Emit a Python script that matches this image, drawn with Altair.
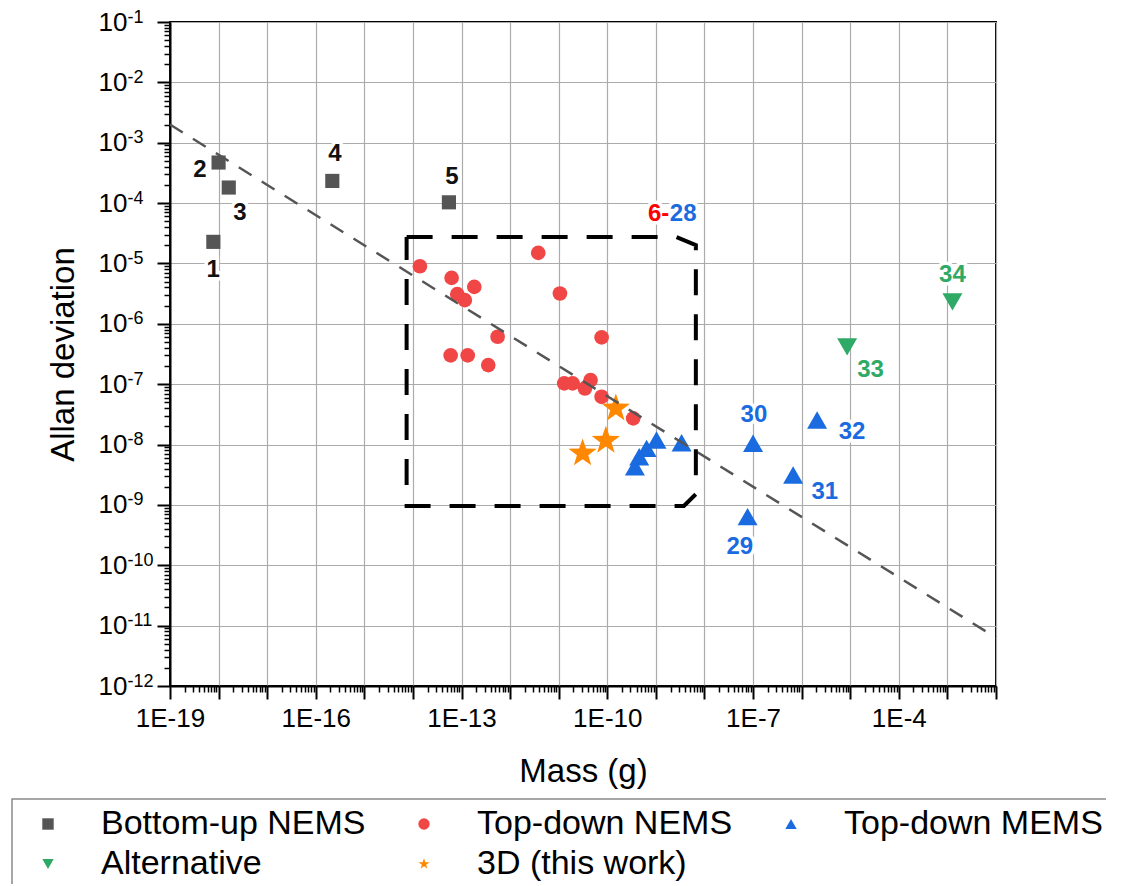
import json
import altair as alt
import pandas as pd

# ---------------- data ----------------
group_names = ["Bottom-up NEMS", "Top-down NEMS", "Top-down MEMS", "Alternative", "3D (this work)"]

bottom_up_mass = [7.8e-19, 1.0e-18, 1.62e-18, 2.19e-16, 5.5e-14]
bottom_up_dev = [2.28e-5, 4.7e-4, 1.81e-4, 2.33e-4, 1.03e-4]

top_nems_mass = [1.39e-14, 6.25e-14, 8.17e-14, 1.17e-13, 1.83e-13, 3.79e-12, 1.06e-11,
                 5.53e-13, 5.97e-14, 1.34e-13, 3.55e-13, 7.64e-11, 1.30e-11, 1.93e-11,
                 3.46e-11, 4.53e-11, 7.64e-11, 3.41e-10]
top_nems_dev = [9.0e-6, 5.78e-6, 3.1e-6, 2.47e-6, 4.1e-6, 1.5e-5, 3.18e-6,
                6.1e-7, 3.0e-7, 3.0e-7, 2.07e-7, 5.96e-7, 1.03e-7, 1.03e-7,
                8.5e-8, 1.17e-7, 6.18e-8, 2.72e-8]

top_mems_mass = [1.03e-9, 3.38e-9, 6.44e-10, 4.54e-10, 3.7e-10, 1.0e-7, 2.08e-6, 6.68e-7, 7.71e-8]
top_mems_dev = [1.19e-8, 1.07e-8, 8.65e-9, 6.28e-9, 4.29e-9, 1.05e-8, 2.55e-8, 3.13e-9, 6.38e-10]

alternative_mass = [8.63e-6, 1.27e-3]
alternative_dev = [4.16e-7, 2.31e-6]

work_mass = [1.5e-10, 9.35e-11, 3.1e-11]
work_dev = [3.97e-8, 1.16e-8, 7.15e-9]

# trend line (two end points)
trend_mass = [1e-19, 1e-2]
trend_dev = [2.0e-3, 6.32e-12]

# dashed highlight box outline
box_mass = [7.41e-15, 2.58e-9, 6.65e-9, 6.65e-9, 3.77e-9, 7.41e-15, 7.41e-15]
box_dev = [2.75e-5, 2.75e-5, 2.01e-5, 1.51e-9, 9.6e-10, 9.6e-10, 2.75e-5]

# reference-number labels
label_text = ["1", "2", "3", "4", "5", "6-", "28", "29", "30", "31", "32", "33", "34"]
label_mass = [7.76e-19, 4.14e-19, 2.75e-18, 2.48e-16, 6.34e-14, 1.14e-9, 3.65e-9,
              5.35e-8, 1.04e-7, 3.0e-6, 1.09e-5, 2.62e-5, 1.27e-3]
label_dev = [7.74e-6, 3.51e-4, 6.73e-5, 6.46e-4, 2.69e-4, 6.55e-5, 6.55e-5,
             2.03e-10, 3.08e-8, 1.66e-9, 1.63e-8, 1.71e-7, 6.4e-6]
label_kind = ["black", "black", "black", "black", "black", "red", "blue",
              "blue", "blue", "blue", "blue", "green", "green"]

x_tick_labels = ["1E-19", "", "", "1E-16", "", "", "1E-13", "", "", "1E-10", "", "",
                 "1E-7", "", "", "1E-4", "", ""]
y_tick_base = "10"
y_tick_exps = ["-12", "-11", "-10", "-9", "-8", "-7", "-6", "-5", "-4", "-3", "-2", "-1"]

# ---------------- styles ----------------
STAR = ("M0,-1L0.235,-0.324L0.951,-0.309L0.38,0.124L0.588,0.809L0,0.4"
        "L-0.588,0.809L-0.38,0.124L-0.951,-0.309L-0.235,-0.324Z")
group_colors = ["#555555", "#f04646", "#1a6be0", "#2eaa66", "#ff8800"]
group_shapes = ["square", "circle", "triangle-up", "triangle-down", STAR]
group_sizes = [200, 215, 400, 400, 880]
kind_colors = {"black": "#111111", "red": "#ff0000", "blue": "#1a6be0", "green": "#2eaa66"}
FONT = "Liberation Sans"

# ---------------- tables ----------------
rows = []
for name, ms, ds, sz in zip(group_names,
                            [bottom_up_mass, top_nems_mass, top_mems_mass, alternative_mass, work_mass],
                            [bottom_up_dev, top_nems_dev, top_mems_dev, alternative_dev, work_dev],
                            group_sizes):
    for m, d in zip(ms, ds):
        rows.append({"group": name, "mass": m, "dev": d, "msize": sz})
points_df = pd.DataFrame(rows)
trend_df = pd.DataFrame({"mass": trend_mass, "dev": trend_dev})
box_df = pd.DataFrame({"mass": box_mass, "dev": box_dev, "idx": list(range(len(box_mass)))})
labels_df = pd.DataFrame({"text": label_text, "mass": label_mass, "dev": label_dev, "kind": label_kind})

x_decades = [10.0 ** k for k in range(-19, -1)]
y_decades = [10.0 ** k for k in range(-12, 0)]
x_minor = [m * 10.0 ** k for k in range(-19, -2) for m in range(2, 10)]
y_minor = [m * 10.0 ** k for k in range(-12, -1) for m in range(2, 10)]

xscale = alt.Scale(type="log", domain=[1e-19, 1e-2], nice=False)
yscale = alt.Scale(type="log", domain=[1e-12, 1e-1], nice=False)

common_axis = dict(tickColor="black", tickWidth=2, domainColor="black", domainWidth=2,
                   labelColor="black", labelFont=FONT, labelFontSize=26, labelFlush=False,
                   labelOverlap=False, gridColor="#ababab", gridWidth=1.2,
                   titleFont=FONT, titleFontSize=33, titleFontWeight="normal",
                   titleColor="black")

x_axis_major = alt.Axis(values=x_decades,
                        labelExpr=json.dumps(x_tick_labels, ensure_ascii=False)
                        + "[round(log(datum.value)/LN10)+19]",
                        grid=True, tickSize=13, labelPadding=6, title="Mass (g)",
                        titleX=413, titleY=95, titleBaseline="alphabetic", titleAlign="center",
                        orient="bottom", **common_axis)
# base "10" of the y labels
y_axis_major = alt.Axis(values=y_decades,
                        labelExpr=json.dumps(y_tick_base),
                        labelAlign="right", grid=True, tickSize=13, labelPadding=30,
                        title="Allan deviation",
                        titleX=-97, titleY=332, titleAngle=270, titleBaseline="alphabetic",
                        titleAlign="center", orient="left", **common_axis)
x_axis_minor = alt.Axis(values=x_minor, labels=False, grid=False, domain=False, tickSize=6,
                        tickWidth=1.5, tickColor="black", title=None, orient="bottom")
y_axis_minor = alt.Axis(values=y_minor, labels=False, grid=False, domain=False, tickSize=6,
                        tickWidth=1.5, tickColor="black", title=None, orient="left")
# superscript exponents of the y labels
y_axis_exp = alt.Axis(values=y_decades,
                      labelExpr=json.dumps(y_tick_exps) + "[round(log(datum.value)/LN10)+12]",
                      labels=True, ticks=True, tickSize=0, tickOpacity=0, grid=False, domain=False,
                      labelFont=FONT, labelFontSize=18, labelColor="black", labelAlign="left",
                      labelPadding=43, labelOffset=-5, labelFlush=False, labelOverlap=False,
                      title=None, orient="left")

legend = alt.Legend(title=None, orient="none", legendX=-158, legendY=777, columns=3,
                    direction="horizontal", labelFont=FONT, labelFontSize=34, labelColor="black",
                    labelLimit=600, symbolSize=130, symbolOffset=11, labelOffset=36,
                    columnPadding=30, rowPadding=6, symbolStrokeWidth=0)

points = alt.Chart(points_df).mark_point(filled=True, opacity=1, strokeWidth=0).encode(
    x=alt.X("mass:Q", scale=xscale, axis=x_axis_major),
    y=alt.Y("dev:Q", scale=yscale, axis=y_axis_major),
    color=alt.Color("group:N", scale=alt.Scale(domain=group_names, range=group_colors), legend=legend),
    shape=alt.Shape("group:N", scale=alt.Scale(domain=group_names, range=group_shapes), legend=legend),
    size=alt.Size("msize:Q", scale=None),
)

trend = alt.Chart(trend_df).mark_line(color="#555555", strokeWidth=2.5, strokeDash=[15, 12]).encode(
    x=alt.X("mass:Q", scale=xscale, axis=x_axis_minor),
    y=alt.Y("dev:Q", scale=yscale, axis=y_axis_minor),
)

box = alt.Chart(box_df).mark_line(color="black", strokeWidth=4, strokeDash=[26, 19]).encode(
    x=alt.X("mass:Q", scale=xscale, axis=None),
    y=alt.Y("dev:Q", scale=yscale, axis=y_axis_exp),
    order=alt.Order("idx:Q"),
)

halo = alt.Chart(labels_df).mark_text(font=FONT, fontSize=24, fontWeight="bold", baseline="middle",
                                      align="center", color="white", stroke="white",
                                      strokeWidth=7).encode(
    x=alt.X("mass:Q", scale=xscale, axis=None),
    y=alt.Y("dev:Q", scale=yscale, axis=None),
    text="text:N",
)

text_layers = []
for kind, col in kind_colors.items():
    text_layers.append(
        alt.Chart(labels_df).transform_filter(alt.datum.kind == kind).mark_text(
            font=FONT, fontSize=24, fontWeight="bold", baseline="middle", align="center",
            color=col).encode(
            x=alt.X("mass:Q", scale=xscale, axis=None),
            y=alt.Y("dev:Q", scale=yscale, axis=None),
            text="text:N",
        )
    )

chart = alt.layer(points, trend, box, halo, *text_layers).resolve_axis(
    x="independent", y="independent"
).properties(
    width=826, height=664,
    autosize=alt.AutoSizeParams(type="none"),
    padding={"left": 162, "top": 14, "right": 110, "bottom": 198},
).configure(font=FONT).configure_view(
    stroke="black", strokeWidth=2
).configure_legend(
    strokeColor="#8a8a8a", strokeWidth=1.5, padding=8
)

chart.save("out.html", embed_options={"renderer": "svg", "actions": False})
